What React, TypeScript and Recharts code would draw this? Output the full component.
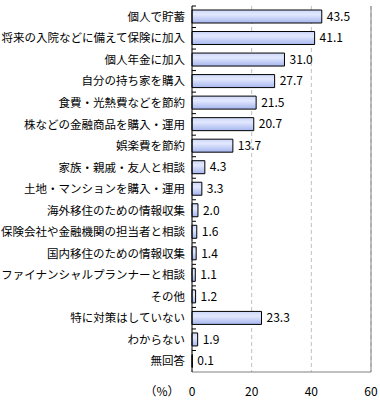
import { BarChart, Bar, XAxis, YAxis, CartesianGrid, LabelList, ReferenceLine, Label } from "recharts";

const CATEGORIES = [
  "個人で貯蓄",
  "将来の入院などに備えて保険に加入",
  "個人年金に加入",
  "自分の持ち家を購入",
  "食費・光熱費などを節約",
  "株などの金融商品を購入・運用",
  "娯楽費を節約",
  "家族・親戚・友人と相談",
  "土地・マンションを購入・運用",
  "海外移住のための情報収集",
  "保険会社や金融機関の担当者と相談",
  "国内移住のための情報収集",
  "ファイナンシャルプランナーと相談",
  "その他",
  "特に対策はしていない",
  "わからない",
  "無回答",
];

const VALUES = [43.5, 41.1, 31.0, 27.7, 21.5, 20.7, 13.7, 4.3, 3.3, 2.0, 1.6, 1.4, 1.1, 1.2, 23.3, 1.9, 0.1];

const X_TICKS = [0, 20, 40, 60];

const data = CATEGORIES.map((name, i) => ({ name, value: VALUES[i] }));

const FONT = "'Noto Sans CJK JP', 'Noto Sans', sans-serif";
const BAND = 366 / CATEGORIES.length;

function CategoryTick(props: any) {
  const { x, y, payload } = props;
  return (
    <g>
      <line x1={x + 7} x2={x + 11} y1={y - BAND / 2} y2={y - BAND / 2} stroke="#000" />
      <text x={x} y={y} dy="0.36em" textAnchor="end" fontSize={11.5} fill="#000" fontFamily={FONT}>
        {payload.value}
      </text>
    </g>
  );
}

export default function App() {
  return (
    <div style={{ position: "absolute", left: 0, top: 0, background: "#fff" }}>
      <BarChart
        width={380}
        height={403}
        data={data}
        layout="vertical"
        margin={{ top: 6, right: 9, bottom: 0, left: 0 }}
        barCategoryGap={0}
      >
        <defs>
          <linearGradient id="barFill" x1="0" y1="0" x2="0" y2="1">
            <stop offset="0%" stopColor="#cdd7fa" />
            <stop offset="35%" stopColor="#e2e8fe" />
            <stop offset="100%" stopColor="#a6b6ee" />
          </linearGradient>
        </defs>
        <CartesianGrid horizontal={false} stroke="#c0c0c0" strokeDasharray="4 3" />
        <XAxis
          type="number"
          domain={[0, 60]}
          ticks={X_TICKS}
          tickLine={false}
          tickSize={6}
          tickMargin={9}
          height={31}
          axisLine={{ stroke: "#808080" }}
          tick={{ fontSize: 12, fill: "#000", fontFamily: FONT }}
        >
          <Label
            content={(p: any) => (
              <text
                x={p.viewBox.x - 30}
                y={p.viewBox.y + 15}
                dy="0.71em"
                textAnchor="middle"
                fontSize={12}
                fill="#000"
                fontFamily={FONT}
              >
                （%）
              </text>
            )}
          />
        </XAxis>
        <XAxis xAxisId="top" type="number" domain={[0, 60]} orientation="top" tick={false} tickLine={false} height={0} axisLine={{ stroke: "#808080" }} />
        <YAxis
          type="category"
          dataKey="name"
          width={192}
          tickLine={false}
          tickSize={0}
          tickMargin={7}
          interval={0}
          axisLine={{ stroke: "#000" }}
          tick={<CategoryTick />}
        />
        <ReferenceLine x={60} stroke="#808080" />
        <Bar dataKey="value" fill="url(#barFill)" stroke="#000" strokeWidth={1} barSize={13} isAnimationActive={false}>
          <LabelList
            dataKey="value"
            position="right"
            offset={5}
            formatter={(v: any) => Number(v).toFixed(1)}
            style={{ fontSize: 12, fill: "#000", fontFamily: FONT }}
          />
        </Bar>
      </BarChart>
    </div>
  );
}
